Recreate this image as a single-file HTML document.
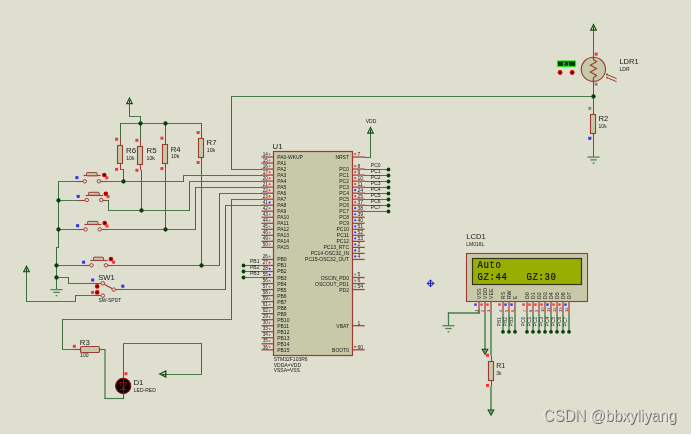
<!DOCTYPE html>
<html><head><meta charset="utf-8"><style>
html,body{margin:0;padding:0;background:#fff;overflow:hidden}
svg{display:block;will-change:transform;opacity:0.999}
</style></head><body>
<svg width="692" height="435" viewBox="0 0 692 435" font-family="Liberation Sans, sans-serif">
<rect x="0" y="0" width="691" height="434" fill="#DFDFD0"/>
<line x1="261.5" y1="169.5" x2="231.5" y2="169.5" stroke="#4A7A4A" stroke-width="1.0" stroke-linecap="square"/>
<line x1="231.5" y1="169.5" x2="231.5" y2="96.5" stroke="#3E6E3E" stroke-width="1.0" stroke-linecap="square"/>
<line x1="231.5" y1="96.5" x2="593.5" y2="96.5" stroke="#4A7A4A" stroke-width="1.0" stroke-linecap="square"/>
<polygon points="129.5,98.0 126.7,103.6 132.3,103.6" fill="none" stroke="#0E4A0E" stroke-width="1.1" stroke-linejoin="miter"/>
<line x1="129.5" y1="100.2" x2="129.5" y2="103.6" stroke="#0E4A0E" stroke-width="1.0" stroke-linecap="butt"/>
<line x1="129.5" y1="103.5" x2="129.5" y2="116.5" stroke="#3E6E3E" stroke-width="1.0" stroke-linecap="square"/>
<line x1="129.5" y1="116.5" x2="140.5" y2="116.5" stroke="#4A7A4A" stroke-width="1.0" stroke-linecap="square"/>
<line x1="140.5" y1="116.5" x2="140.5" y2="123.5" stroke="#3E6E3E" stroke-width="1.0" stroke-linecap="square"/>
<line x1="120.5" y1="123.5" x2="201.5" y2="123.5" stroke="#4A7A4A" stroke-width="1.0" stroke-linecap="square"/>
<line x1="120.5" y1="123.5" x2="120.5" y2="139.5" stroke="#3E6E3E" stroke-width="1.0" stroke-linecap="square"/>
<line x1="120.5" y1="139.5" x2="120.5" y2="145.2" stroke="#A04038" stroke-width="1.1" stroke-linecap="butt"/>
<line x1="120.5" y1="163.4" x2="120.5" y2="169.4" stroke="#A04038" stroke-width="1.1" stroke-linecap="butt"/>
<rect x="117.5" y="145.5" width="5" height="18.0" fill="#C8C9A8" stroke="#9A3A32" stroke-width="1.1"/>
<line x1="120.5" y1="169.5" x2="123.5" y2="169.5" stroke="#4A7A4A" stroke-width="1.0" stroke-linecap="square"/>
<line x1="123.5" y1="169.5" x2="123.5" y2="181.5" stroke="#3E6E3E" stroke-width="1.0" stroke-linecap="square"/>
<rect x="115.1" y="137.7" width="3" height="3" fill="#F03838"/>
<rect x="115.1" y="167.9" width="3" height="3" fill="#F03838"/>
<text x="126.0" y="152.9" font-size="7.8" fill="#1A1A1A" stroke="#1A1A1A" stroke-width="0.0" text-anchor="start" >R6</text>
<text x="126.2" y="159.8" font-size="5.2" fill="#1A1A1A" stroke="#1A1A1A" stroke-width="0.0" text-anchor="start" >10k</text>
<line x1="140.5" y1="123.5" x2="140.5" y2="140.5" stroke="#3E6E3E" stroke-width="1.0" stroke-linecap="square"/>
<line x1="140.5" y1="140.3" x2="140.5" y2="146.1" stroke="#A04038" stroke-width="1.1" stroke-linecap="butt"/>
<line x1="140.5" y1="164.6" x2="140.5" y2="170.3" stroke="#A04038" stroke-width="1.1" stroke-linecap="butt"/>
<rect x="137.5" y="146.5" width="5" height="18.0" fill="#C8C9A8" stroke="#9A3A32" stroke-width="1.1"/>
<line x1="141.5" y1="170.5" x2="141.5" y2="210.5" stroke="#3E6E3E" stroke-width="1.0" stroke-linecap="square"/>
<rect x="135.4" y="138.8" width="3" height="3" fill="#F03838"/>
<rect x="135.4" y="168.8" width="3" height="3" fill="#F03838"/>
<text x="146.6" y="152.9" font-size="7.8" fill="#1A1A1A" stroke="#1A1A1A" stroke-width="0.0" text-anchor="start" >R5</text>
<text x="146.6" y="159.8" font-size="5.2" fill="#1A1A1A" stroke="#1A1A1A" stroke-width="0.0" text-anchor="start" >10k</text>
<line x1="165.5" y1="123.5" x2="165.5" y2="138.5" stroke="#3E6E3E" stroke-width="1.0" stroke-linecap="square"/>
<line x1="165.5" y1="138.5" x2="165.5" y2="144.8" stroke="#A04038" stroke-width="1.1" stroke-linecap="butt"/>
<line x1="165.5" y1="163.0" x2="165.5" y2="168.6" stroke="#A04038" stroke-width="1.1" stroke-linecap="butt"/>
<rect x="162.5" y="144.5" width="5" height="19.0" fill="#C8C9A8" stroke="#9A3A32" stroke-width="1.1"/>
<line x1="165.5" y1="168.5" x2="165.5" y2="229.5" stroke="#3E6E3E" stroke-width="1.0" stroke-linecap="square"/>
<rect x="160.4" y="136.7" width="3" height="3" fill="#F03838"/>
<rect x="160.4" y="167.1" width="3" height="3" fill="#F03838"/>
<text x="170.7" y="151.8" font-size="7.8" fill="#1A1A1A" stroke="#1A1A1A" stroke-width="0.0" text-anchor="start" >R4</text>
<text x="170.9" y="158.4" font-size="5.2" fill="#1A1A1A" stroke="#1A1A1A" stroke-width="0.0" text-anchor="start" >10k</text>
<line x1="201.5" y1="123.5" x2="201.5" y2="132.5" stroke="#3E6E3E" stroke-width="1.0" stroke-linecap="square"/>
<line x1="201.5" y1="132.6" x2="201.5" y2="138.6" stroke="#A04038" stroke-width="1.1" stroke-linecap="butt"/>
<line x1="201.5" y1="157.3" x2="201.5" y2="162.6" stroke="#A04038" stroke-width="1.1" stroke-linecap="butt"/>
<rect x="198.5" y="138.5" width="5" height="19.0" fill="#C8C9A8" stroke="#9A3A32" stroke-width="1.1"/>
<line x1="201.5" y1="162.5" x2="201.5" y2="265.5" stroke="#3E6E3E" stroke-width="1.0" stroke-linecap="square"/>
<rect x="196.6" y="131.0" width="3" height="3" fill="#F03838"/>
<rect x="196.6" y="161.0" width="3" height="3" fill="#F03838"/>
<text x="206.6" y="145.2" font-size="7.8" fill="#1A1A1A" stroke="#1A1A1A" stroke-width="0.0" text-anchor="start" >R7</text>
<text x="206.8" y="152.0" font-size="5.2" fill="#1A1A1A" stroke="#1A1A1A" stroke-width="0.0" text-anchor="start" >10k</text>
<line x1="58.5" y1="181.5" x2="58.5" y2="247.5" stroke="#3E6E3E" stroke-width="1.0" stroke-linecap="square"/>
<line x1="58.5" y1="247.5" x2="56.5" y2="247.5" stroke="#4A7A4A" stroke-width="1.0" stroke-linecap="square"/>
<line x1="56.5" y1="247.5" x2="56.5" y2="289.5" stroke="#3E6E3E" stroke-width="1.0" stroke-linecap="square"/>
<line x1="50.5" y1="289.6" x2="62.5" y2="289.6" stroke="#4E804E" stroke-width="1.25" stroke-linecap="butt"/>
<line x1="53.3" y1="292.40000000000003" x2="59.7" y2="292.40000000000003" stroke="#4E804E" stroke-width="1.25" stroke-linecap="butt"/>
<line x1="55.6" y1="295.7" x2="57.4" y2="295.7" stroke="#4E804E" stroke-width="1.25" stroke-linecap="butt"/>
<line x1="58.5" y1="181.5" x2="76.5" y2="181.5" stroke="#4A7A4A" stroke-width="1.0" stroke-linecap="square"/>
<line x1="76.9" y1="181.5" x2="83.0" y2="181.5" stroke="#A04038" stroke-width="1.1" stroke-linecap="butt"/>
<line x1="100.7" y1="181.5" x2="107.6" y2="181.5" stroke="#A04038" stroke-width="1.1" stroke-linecap="butt"/>
<circle cx="84.8" cy="181.3" r="1.75" fill="none" stroke="#9A3A32" stroke-width="0.95"/>
<circle cx="98.9" cy="181.3" r="1.75" fill="none" stroke="#9A3A32" stroke-width="0.95"/>
<line x1="83.6" y1="175.5" x2="100.7" y2="175.5" stroke="#A04038" stroke-width="1.15" stroke-linecap="butt"/>
<rect x="86.6" y="172.6" width="10.5" height="3.200000000000017" rx="0.6" fill="#C8C9A8" stroke="#9A3A32" stroke-width="1.0"/>
<rect x="75.4" y="176.1" width="3" height="3" fill="#3030F0"/>
<rect x="105.3" y="176.3" width="3" height="3" fill="#F03838"/>
<circle cx="104.3" cy="175.0" r="2.3" fill="#D40000"/>
<circle cx="104.3" cy="175.0" r="1.0" fill="#500000"/>
<line x1="107.5" y1="181.5" x2="183.5" y2="181.5" stroke="#4A7A4A" stroke-width="1.0" stroke-linecap="square"/>
<line x1="183.5" y1="181.5" x2="183.5" y2="175.5" stroke="#3E6E3E" stroke-width="1.0" stroke-linecap="square"/>
<line x1="183.5" y1="175.5" x2="261.5" y2="175.5" stroke="#4A7A4A" stroke-width="1.0" stroke-linecap="square"/>
<line x1="58.5" y1="200.5" x2="78.5" y2="200.5" stroke="#4A7A4A" stroke-width="1.0" stroke-linecap="square"/>
<line x1="78.2" y1="200.5" x2="85.0" y2="200.5" stroke="#A04038" stroke-width="1.1" stroke-linecap="butt"/>
<line x1="103.0" y1="200.5" x2="108.9" y2="200.5" stroke="#A04038" stroke-width="1.1" stroke-linecap="butt"/>
<circle cx="86.8" cy="200.0" r="1.75" fill="none" stroke="#9A3A32" stroke-width="0.95"/>
<circle cx="101.2" cy="200.0" r="1.75" fill="none" stroke="#9A3A32" stroke-width="0.95"/>
<line x1="85.6" y1="195.5" x2="103.0" y2="195.5" stroke="#A04038" stroke-width="1.15" stroke-linecap="butt"/>
<rect x="88.6" y="192.3" width="10.600000000000009" height="2.8999999999999773" rx="0.6" fill="#C8C9A8" stroke="#9A3A32" stroke-width="1.0"/>
<rect x="76.7" y="194.9" width="3" height="3" fill="#3030F0"/>
<rect x="106.5" y="195.1" width="3" height="3" fill="#F03838"/>
<circle cx="105.8" cy="193.7" r="2.3" fill="#D40000"/>
<circle cx="105.8" cy="193.7" r="1.0" fill="#500000"/>
<line x1="108.5" y1="200.5" x2="108.5" y2="210.5" stroke="#3E6E3E" stroke-width="1.0" stroke-linecap="square"/>
<line x1="108.5" y1="210.5" x2="189.5" y2="210.5" stroke="#4A7A4A" stroke-width="1.0" stroke-linecap="square"/>
<line x1="189.5" y1="210.5" x2="189.5" y2="181.5" stroke="#3E6E3E" stroke-width="1.0" stroke-linecap="square"/>
<line x1="189.5" y1="181.5" x2="261.5" y2="181.5" stroke="#4A7A4A" stroke-width="1.0" stroke-linecap="square"/>
<line x1="58.5" y1="229.5" x2="77.5" y2="229.5" stroke="#4A7A4A" stroke-width="1.0" stroke-linecap="square"/>
<line x1="77.6" y1="229.5" x2="83.7" y2="229.5" stroke="#A04038" stroke-width="1.1" stroke-linecap="butt"/>
<line x1="101.5" y1="229.5" x2="107.0" y2="229.5" stroke="#A04038" stroke-width="1.1" stroke-linecap="butt"/>
<circle cx="85.5" cy="229.4" r="1.75" fill="none" stroke="#9A3A32" stroke-width="0.95"/>
<circle cx="99.7" cy="229.4" r="1.75" fill="none" stroke="#9A3A32" stroke-width="0.95"/>
<line x1="84.3" y1="224.5" x2="101.5" y2="224.5" stroke="#A04038" stroke-width="1.15" stroke-linecap="butt"/>
<rect x="87.6" y="221.4" width="10.400000000000006" height="3.0" rx="0.6" fill="#C8C9A8" stroke="#9A3A32" stroke-width="1.0"/>
<rect x="76.1" y="224.2" width="3" height="3" fill="#3030F0"/>
<rect x="105.5" y="224.5" width="3" height="3" fill="#F03838"/>
<circle cx="104.7" cy="223.1" r="2.3" fill="#D40000"/>
<circle cx="104.7" cy="223.1" r="1.0" fill="#500000"/>
<line x1="107.5" y1="229.5" x2="195.5" y2="229.5" stroke="#4A7A4A" stroke-width="1.0" stroke-linecap="square"/>
<line x1="195.5" y1="229.5" x2="195.5" y2="187.5" stroke="#3E6E3E" stroke-width="1.0" stroke-linecap="square"/>
<line x1="195.5" y1="187.5" x2="261.5" y2="187.5" stroke="#4A7A4A" stroke-width="1.0" stroke-linecap="square"/>
<line x1="56.5" y1="265.5" x2="83.5" y2="265.5" stroke="#4A7A4A" stroke-width="1.0" stroke-linecap="square"/>
<line x1="83.6" y1="265.5" x2="89.7" y2="265.5" stroke="#A04038" stroke-width="1.1" stroke-linecap="butt"/>
<line x1="107.7" y1="265.5" x2="113.6" y2="265.5" stroke="#A04038" stroke-width="1.1" stroke-linecap="butt"/>
<circle cx="91.5" cy="265.3" r="1.75" fill="none" stroke="#9A3A32" stroke-width="0.95"/>
<circle cx="105.9" cy="265.3" r="1.75" fill="none" stroke="#9A3A32" stroke-width="0.95"/>
<line x1="90.3" y1="260.5" x2="107.7" y2="260.5" stroke="#A04038" stroke-width="1.15" stroke-linecap="butt"/>
<rect x="93.4" y="257.2" width="10.099999999999994" height="3.1999999999999886" rx="0.6" fill="#C8C9A8" stroke="#9A3A32" stroke-width="1.0"/>
<rect x="82.1" y="260.7" width="3" height="3" fill="#3030F0"/>
<rect x="112.1" y="260.7" width="3" height="3" fill="#F03838"/>
<circle cx="110.9" cy="259.1" r="2.3" fill="#D40000"/>
<circle cx="110.9" cy="259.1" r="1.0" fill="#500000"/>
<line x1="113.5" y1="265.5" x2="219.5" y2="265.5" stroke="#4A7A4A" stroke-width="1.0" stroke-linecap="square"/>
<line x1="219.5" y1="265.5" x2="219.5" y2="193.5" stroke="#3E6E3E" stroke-width="1.0" stroke-linecap="square"/>
<line x1="219.5" y1="193.5" x2="261.5" y2="193.5" stroke="#4A7A4A" stroke-width="1.0" stroke-linecap="square"/>
<line x1="56.5" y1="277.5" x2="68.5" y2="277.5" stroke="#4A7A4A" stroke-width="1.0" stroke-linecap="square"/>
<line x1="68.5" y1="277.5" x2="68.5" y2="283.5" stroke="#3E6E3E" stroke-width="1.0" stroke-linecap="square"/>
<line x1="68.5" y1="283.5" x2="93.5" y2="283.5" stroke="#4A7A4A" stroke-width="1.0" stroke-linecap="square"/>
<line x1="93.0" y1="283.5" x2="101.0" y2="283.5" stroke="#A04038" stroke-width="1.1" stroke-linecap="butt"/>
<circle cx="102.8" cy="283.3" r="1.75" fill="none" stroke="#9A3A32" stroke-width="0.95"/>
<line x1="104.3" y1="284.2" x2="112.3" y2="288.8" stroke="#9A3A32" stroke-width="1.1" stroke-linecap="butt"/>
<circle cx="113.8" cy="289.6" r="1.75" fill="none" stroke="#9A3A32" stroke-width="0.95"/>
<line x1="115.5" y1="289.5" x2="123.0" y2="289.5" stroke="#A04038" stroke-width="1.1" stroke-linecap="butt"/>
<line x1="123.5" y1="289.5" x2="225.5" y2="289.5" stroke="#4A7A4A" stroke-width="1.0" stroke-linecap="square"/>
<line x1="225.5" y1="289.5" x2="225.5" y2="205.5" stroke="#3E6E3E" stroke-width="1.0" stroke-linecap="square"/>
<line x1="225.5" y1="205.5" x2="261.5" y2="205.5" stroke="#4A7A4A" stroke-width="1.0" stroke-linecap="square"/>
<circle cx="102.8" cy="295.6" r="1.75" fill="none" stroke="#9A3A32" stroke-width="0.95"/>
<line x1="93.0" y1="295.5" x2="101.0" y2="295.5" stroke="#A04038" stroke-width="1.1" stroke-linecap="butt"/>
<line x1="93.5" y1="295.5" x2="75.5" y2="295.5" stroke="#4A7A4A" stroke-width="1.0" stroke-linecap="square"/>
<line x1="75.5" y1="295.5" x2="75.5" y2="301.5" stroke="#3E6E3E" stroke-width="1.0" stroke-linecap="square"/>
<line x1="75.5" y1="301.5" x2="26.5" y2="301.5" stroke="#4A7A4A" stroke-width="1.0" stroke-linecap="square"/>
<line x1="26.5" y1="301.5" x2="26.5" y2="271.5" stroke="#3E6E3E" stroke-width="1.0" stroke-linecap="square"/>
<polygon points="26.5,266.20000000000005 23.7,271.80000000000007 29.3,271.80000000000007" fill="none" stroke="#0E4A0E" stroke-width="1.1" stroke-linejoin="miter"/>
<line x1="26.5" y1="268.40000000000003" x2="26.5" y2="271.80000000000007" stroke="#0E4A0E" stroke-width="1.0" stroke-linecap="butt"/>
<rect x="91.2" y="278.5" width="3" height="3" fill="#3030F0"/>
<rect x="121.3" y="284.7" width="3" height="3" fill="#3030F0"/>
<rect x="91.1" y="290.9" width="3" height="3" fill="#F03838"/>
<circle cx="97.2" cy="286.4" r="2.3" fill="#D40000"/>
<circle cx="97.2" cy="286.4" r="1.0" fill="#500000"/>
<circle cx="97.2" cy="292.4" r="2.3" fill="#D40000"/>
<circle cx="97.2" cy="292.4" r="1.0" fill="#500000"/>
<text x="98.3" y="279.6" font-size="7.6" fill="#1A1A1A" stroke="#1A1A1A" stroke-width="0.0" text-anchor="start" >SW1</text>
<text x="98.4" y="301.6" font-size="5" fill="#1A1A1A" stroke="#1A1A1A" stroke-width="0.0" text-anchor="start" >SW-SPDT</text>
<line x1="261.5" y1="199.5" x2="231.5" y2="199.5" stroke="#4A7A4A" stroke-width="1.0" stroke-linecap="square"/>
<line x1="231.5" y1="199.5" x2="231.5" y2="319.5" stroke="#3E6E3E" stroke-width="1.0" stroke-linecap="square"/>
<line x1="231.5" y1="319.5" x2="62.5" y2="319.5" stroke="#4A7A4A" stroke-width="1.0" stroke-linecap="square"/>
<line x1="62.5" y1="319.5" x2="62.5" y2="349.5" stroke="#3E6E3E" stroke-width="1.0" stroke-linecap="square"/>
<line x1="62.5" y1="349.5" x2="74.5" y2="349.5" stroke="#4A7A4A" stroke-width="1.0" stroke-linecap="square"/>
<line x1="74.3" y1="349.5" x2="80.4" y2="349.5" stroke="#A04038" stroke-width="1.1" stroke-linecap="butt"/>
<line x1="99.5" y1="349.5" x2="104.8" y2="349.5" stroke="#A04038" stroke-width="1.1" stroke-linecap="butt"/>
<rect x="80.5" y="346.5" width="19.0" height="6" rx="1.6" fill="#C8C9A8" stroke="#9A3A32" stroke-width="1.2"/>
<rect x="72.8" y="344.8" width="3" height="3" fill="#F03838"/>
<text x="79.8" y="344.8" font-size="7.8" fill="#1A1A1A" stroke="#1A1A1A" stroke-width="0.0" text-anchor="start" >R3</text>
<text x="80.1" y="356.9" font-size="5.1" fill="#1A1A1A" stroke="#1A1A1A" stroke-width="0.0" text-anchor="start" >100</text>
<line x1="105.0" y1="349.5" x2="105.0" y2="398.5" stroke="#3E6E3E" stroke-width="1.15" stroke-linecap="square"/>
<line x1="105.0" y1="398.5" x2="123.5" y2="398.5" stroke="#4A7A4A" stroke-width="1.15" stroke-linecap="square"/>
<line x1="123.5" y1="398.5" x2="123.5" y2="393.5" stroke="#3E6E3E" stroke-width="1.15" stroke-linecap="square"/>
<line x1="123.5" y1="343.5" x2="123.5" y2="372.5" stroke="#3E6E3E" stroke-width="1.0" stroke-linecap="square"/>
<line x1="123.5" y1="372.0" x2="123.5" y2="378.5" stroke="#A04038" stroke-width="1.1" stroke-linecap="butt"/>
<line x1="123.5" y1="343.5" x2="201.5" y2="343.5" stroke="#4A7A4A" stroke-width="1.0" stroke-linecap="square"/>
<line x1="201.5" y1="343.5" x2="201.5" y2="374.5" stroke="#3E6E3E" stroke-width="1.0" stroke-linecap="square"/>
<line x1="201.5" y1="374.5" x2="165.5" y2="374.5" stroke="#4A7A4A" stroke-width="1.0" stroke-linecap="square"/>
<polygon points="159.8,374.0 165.8,371.0 165.8,377.0" fill="none" stroke="#0E4A0E" stroke-width="1.3" stroke-linejoin="miter"/>
<line x1="162.3" y1="374.5" x2="165.8" y2="374.5" stroke="#0E4A0E" stroke-width="1.1" stroke-linecap="butt"/>
<rect x="124.4" y="372.2" width="3" height="3" fill="#F03838"/>
<circle cx="123.2" cy="386.0" r="7.6" fill="#0A0000" stroke="#7A1010" stroke-width="1.1"/>
<polygon points="119.6,382.6 126.8,382.6 123.2,389.4" fill="none" stroke="#9A1414" stroke-width="0.85"/>
<line x1="119.6" y1="389.5" x2="126.8" y2="389.5" stroke="#9A1414" stroke-width="0.85" stroke-linecap="butt"/>
<line x1="123.5" y1="378.5" x2="123.5" y2="393.5" stroke="#9A1414" stroke-width="0.85" stroke-linecap="butt"/>
<text x="133.4" y="384.9" font-size="7.8" fill="#1A1A1A" stroke="#1A1A1A" stroke-width="0.0" text-anchor="start" >D1</text>
<text x="133.8" y="391.7" font-size="5.0" fill="#1A1A1A" stroke="#1A1A1A" stroke-width="0.0" text-anchor="start" >LED-RED</text>
<rect x="273.5" y="151.5" width="79.0" height="204.0" fill="#C8C9A8" stroke="#9A3A32" stroke-width="1.2"/>
<text x="272.5" y="148.6" font-size="7.8" fill="#1A1A1A" stroke="#1A1A1A" stroke-width="0.0" text-anchor="start" >U1</text>
<line x1="261.5" y1="157.0" x2="273.5" y2="157.0" stroke="#A83C36" stroke-width="1.25" stroke-linecap="butt"/>
<text x="262.8" y="155.7" font-size="4.6" fill="#222" stroke="#222" stroke-width="0.0" text-anchor="start" >14</text>
<circle cx="269.6" cy="154.2" r="1.05" fill="#8A8A8A"/>
<text x="277.2" y="159.0" font-size="5.0" fill="#1A1A1A" stroke="#1A1A1A" stroke-width="0.0" text-anchor="start" >PA0-WKUP</text>
<line x1="261.5" y1="163.03" x2="273.5" y2="163.03" stroke="#A83C36" stroke-width="1.25" stroke-linecap="butt"/>
<text x="262.8" y="161.72" font-size="4.6" fill="#222" stroke="#222" stroke-width="0.0" text-anchor="start" >15</text>
<circle cx="269.6" cy="160.22" r="1.05" fill="#8A8A8A"/>
<text x="277.2" y="165.02" font-size="5.0" fill="#1A1A1A" stroke="#1A1A1A" stroke-width="0.0" text-anchor="start" >PA1</text>
<line x1="261.5" y1="169.05" x2="273.5" y2="169.05" stroke="#A83C36" stroke-width="1.25" stroke-linecap="butt"/>
<text x="262.8" y="167.75" font-size="4.6" fill="#222" stroke="#222" stroke-width="0.0" text-anchor="start" >16</text>
<circle cx="269.6" cy="166.25" r="1.05" fill="#8A8A8A"/>
<text x="277.2" y="171.05" font-size="5.0" fill="#1A1A1A" stroke="#1A1A1A" stroke-width="0.0" text-anchor="start" >PA2</text>
<line x1="261.5" y1="175.07" x2="273.5" y2="175.07" stroke="#A83C36" stroke-width="1.25" stroke-linecap="butt"/>
<text x="262.8" y="173.77" font-size="4.6" fill="#222" stroke="#222" stroke-width="0.0" text-anchor="start" >17</text>
<circle cx="269.6" cy="172.27" r="1.05" fill="#F03838"/>
<text x="277.2" y="177.07000000000002" font-size="5.0" fill="#1A1A1A" stroke="#1A1A1A" stroke-width="0.0" text-anchor="start" >PA3</text>
<line x1="261.5" y1="181.1" x2="273.5" y2="181.1" stroke="#A83C36" stroke-width="1.25" stroke-linecap="butt"/>
<text x="262.8" y="179.8" font-size="4.6" fill="#222" stroke="#222" stroke-width="0.0" text-anchor="start" >20</text>
<circle cx="269.6" cy="178.3" r="1.05" fill="#F03838"/>
<text x="277.2" y="183.10000000000002" font-size="5.0" fill="#1A1A1A" stroke="#1A1A1A" stroke-width="0.0" text-anchor="start" >PA4</text>
<line x1="261.5" y1="187.12" x2="273.5" y2="187.12" stroke="#A83C36" stroke-width="1.25" stroke-linecap="butt"/>
<text x="262.8" y="185.82" font-size="4.6" fill="#222" stroke="#222" stroke-width="0.0" text-anchor="start" >21</text>
<circle cx="269.6" cy="184.32" r="1.05" fill="#F03838"/>
<text x="277.2" y="189.12" font-size="5.0" fill="#1A1A1A" stroke="#1A1A1A" stroke-width="0.0" text-anchor="start" >PA5</text>
<line x1="261.5" y1="193.15" x2="273.5" y2="193.15" stroke="#A83C36" stroke-width="1.25" stroke-linecap="butt"/>
<text x="262.8" y="191.85" font-size="4.6" fill="#222" stroke="#222" stroke-width="0.0" text-anchor="start" >22</text>
<circle cx="269.6" cy="190.35" r="1.05" fill="#F03838"/>
<text x="277.2" y="195.15" font-size="5.0" fill="#1A1A1A" stroke="#1A1A1A" stroke-width="0.0" text-anchor="start" >PA6</text>
<line x1="261.5" y1="199.18" x2="273.5" y2="199.18" stroke="#A83C36" stroke-width="1.25" stroke-linecap="butt"/>
<text x="262.8" y="197.88" font-size="4.6" fill="#222" stroke="#222" stroke-width="0.0" text-anchor="start" >23</text>
<circle cx="269.6" cy="196.38" r="1.05" fill="#F03838"/>
<text x="277.2" y="201.18" font-size="5.0" fill="#1A1A1A" stroke="#1A1A1A" stroke-width="0.0" text-anchor="start" >PA7</text>
<line x1="261.5" y1="205.2" x2="273.5" y2="205.2" stroke="#A83C36" stroke-width="1.25" stroke-linecap="butt"/>
<text x="262.8" y="203.9" font-size="4.6" fill="#222" stroke="#222" stroke-width="0.0" text-anchor="start" >41</text>
<circle cx="269.6" cy="202.4" r="1.05" fill="#3030F0"/>
<text x="277.2" y="207.20000000000002" font-size="5.0" fill="#1A1A1A" stroke="#1A1A1A" stroke-width="0.0" text-anchor="start" >PA8</text>
<line x1="261.5" y1="211.22" x2="273.5" y2="211.22" stroke="#A83C36" stroke-width="1.25" stroke-linecap="butt"/>
<text x="262.8" y="209.92" font-size="4.6" fill="#222" stroke="#222" stroke-width="0.0" text-anchor="start" >42</text>
<circle cx="269.6" cy="208.42" r="1.05" fill="#8A8A8A"/>
<text x="277.2" y="213.22" font-size="5.0" fill="#1A1A1A" stroke="#1A1A1A" stroke-width="0.0" text-anchor="start" >PA9</text>
<line x1="261.5" y1="217.25" x2="273.5" y2="217.25" stroke="#A83C36" stroke-width="1.25" stroke-linecap="butt"/>
<text x="262.8" y="215.95" font-size="4.6" fill="#222" stroke="#222" stroke-width="0.0" text-anchor="start" >43</text>
<circle cx="269.6" cy="214.45" r="1.05" fill="#8A8A8A"/>
<text x="277.2" y="219.25" font-size="5.0" fill="#1A1A1A" stroke="#1A1A1A" stroke-width="0.0" text-anchor="start" >PA10</text>
<line x1="261.5" y1="223.28" x2="273.5" y2="223.28" stroke="#A83C36" stroke-width="1.25" stroke-linecap="butt"/>
<text x="262.8" y="221.97" font-size="4.6" fill="#222" stroke="#222" stroke-width="0.0" text-anchor="start" >44</text>
<circle cx="269.6" cy="220.47" r="1.05" fill="#8A8A8A"/>
<text x="277.2" y="225.27" font-size="5.0" fill="#1A1A1A" stroke="#1A1A1A" stroke-width="0.0" text-anchor="start" >PA11</text>
<line x1="261.5" y1="229.3" x2="273.5" y2="229.3" stroke="#A83C36" stroke-width="1.25" stroke-linecap="butt"/>
<text x="262.8" y="228.0" font-size="4.6" fill="#222" stroke="#222" stroke-width="0.0" text-anchor="start" >45</text>
<circle cx="269.6" cy="226.5" r="1.05" fill="#8A8A8A"/>
<text x="277.2" y="231.3" font-size="5.0" fill="#1A1A1A" stroke="#1A1A1A" stroke-width="0.0" text-anchor="start" >PA12</text>
<line x1="261.5" y1="235.32" x2="273.5" y2="235.32" stroke="#A83C36" stroke-width="1.25" stroke-linecap="butt"/>
<text x="262.8" y="234.02" font-size="4.6" fill="#222" stroke="#222" stroke-width="0.0" text-anchor="start" >46</text>
<circle cx="269.6" cy="232.52" r="1.05" fill="#8A8A8A"/>
<text x="277.2" y="237.32000000000002" font-size="5.0" fill="#1A1A1A" stroke="#1A1A1A" stroke-width="0.0" text-anchor="start" >PA13</text>
<line x1="261.5" y1="241.35" x2="273.5" y2="241.35" stroke="#A83C36" stroke-width="1.25" stroke-linecap="butt"/>
<text x="262.8" y="240.05" font-size="4.6" fill="#222" stroke="#222" stroke-width="0.0" text-anchor="start" >49</text>
<circle cx="269.6" cy="238.55" r="1.05" fill="#8A8A8A"/>
<text x="277.2" y="243.35000000000002" font-size="5.0" fill="#1A1A1A" stroke="#1A1A1A" stroke-width="0.0" text-anchor="start" >PA14</text>
<line x1="261.5" y1="247.38" x2="273.5" y2="247.38" stroke="#A83C36" stroke-width="1.25" stroke-linecap="butt"/>
<text x="262.8" y="246.07" font-size="4.6" fill="#222" stroke="#222" stroke-width="0.0" text-anchor="start" >50</text>
<circle cx="269.6" cy="244.57" r="1.05" fill="#8A8A8A"/>
<text x="277.2" y="249.37" font-size="5.0" fill="#1A1A1A" stroke="#1A1A1A" stroke-width="0.0" text-anchor="start" >PA15</text>
<line x1="261.5" y1="259.43" x2="273.5" y2="259.43" stroke="#A83C36" stroke-width="1.25" stroke-linecap="butt"/>
<text x="262.8" y="258.12" font-size="4.6" fill="#222" stroke="#222" stroke-width="0.0" text-anchor="start" >26</text>
<circle cx="269.6" cy="256.62" r="1.05" fill="#8A8A8A"/>
<text x="277.2" y="261.42" font-size="5.0" fill="#1A1A1A" stroke="#1A1A1A" stroke-width="0.0" text-anchor="start" >PB0</text>
<line x1="261.5" y1="265.45" x2="273.5" y2="265.45" stroke="#A83C36" stroke-width="1.25" stroke-linecap="butt"/>
<text x="262.8" y="264.15" font-size="4.6" fill="#222" stroke="#222" stroke-width="0.0" text-anchor="start" >27</text>
<circle cx="269.6" cy="262.65" r="1.05" fill="#F03838"/>
<text x="277.2" y="267.45" font-size="5.0" fill="#1A1A1A" stroke="#1A1A1A" stroke-width="0.0" text-anchor="start" >PB1</text>
<line x1="261.5" y1="271.48" x2="273.5" y2="271.48" stroke="#A83C36" stroke-width="1.25" stroke-linecap="butt"/>
<text x="262.8" y="270.18" font-size="4.6" fill="#222" stroke="#222" stroke-width="0.0" text-anchor="start" >28</text>
<circle cx="269.6" cy="268.68" r="1.05" fill="#3030F0"/>
<text x="277.2" y="273.48" font-size="5.0" fill="#1A1A1A" stroke="#1A1A1A" stroke-width="0.0" text-anchor="start" >PB2</text>
<line x1="261.5" y1="277.5" x2="273.5" y2="277.5" stroke="#A83C36" stroke-width="1.25" stroke-linecap="butt"/>
<text x="262.8" y="276.2" font-size="4.6" fill="#222" stroke="#222" stroke-width="0.0" text-anchor="start" >55</text>
<circle cx="269.6" cy="274.7" r="1.05" fill="#3030F0"/>
<text x="277.2" y="279.5" font-size="5.0" fill="#1A1A1A" stroke="#1A1A1A" stroke-width="0.0" text-anchor="start" >PB3</text>
<line x1="261.5" y1="283.52" x2="273.5" y2="283.52" stroke="#A83C36" stroke-width="1.25" stroke-linecap="butt"/>
<text x="262.8" y="282.23" font-size="4.6" fill="#222" stroke="#222" stroke-width="0.0" text-anchor="start" >56</text>
<circle cx="269.6" cy="280.73" r="1.05" fill="#8A8A8A"/>
<text x="277.2" y="285.53000000000003" font-size="5.0" fill="#1A1A1A" stroke="#1A1A1A" stroke-width="0.0" text-anchor="start" >PB4</text>
<line x1="261.5" y1="289.55" x2="273.5" y2="289.55" stroke="#A83C36" stroke-width="1.25" stroke-linecap="butt"/>
<text x="262.8" y="288.25" font-size="4.6" fill="#222" stroke="#222" stroke-width="0.0" text-anchor="start" >57</text>
<circle cx="269.6" cy="286.75" r="1.05" fill="#8A8A8A"/>
<text x="277.2" y="291.55" font-size="5.0" fill="#1A1A1A" stroke="#1A1A1A" stroke-width="0.0" text-anchor="start" >PB5</text>
<line x1="261.5" y1="295.58" x2="273.5" y2="295.58" stroke="#A83C36" stroke-width="1.25" stroke-linecap="butt"/>
<text x="262.8" y="294.27" font-size="4.6" fill="#222" stroke="#222" stroke-width="0.0" text-anchor="start" >58</text>
<circle cx="269.6" cy="292.77" r="1.05" fill="#8A8A8A"/>
<text x="277.2" y="297.57" font-size="5.0" fill="#1A1A1A" stroke="#1A1A1A" stroke-width="0.0" text-anchor="start" >PB6</text>
<line x1="261.5" y1="301.6" x2="273.5" y2="301.6" stroke="#A83C36" stroke-width="1.25" stroke-linecap="butt"/>
<text x="262.8" y="300.3" font-size="4.6" fill="#222" stroke="#222" stroke-width="0.0" text-anchor="start" >59</text>
<circle cx="269.6" cy="298.8" r="1.05" fill="#8A8A8A"/>
<text x="277.2" y="303.6" font-size="5.0" fill="#1A1A1A" stroke="#1A1A1A" stroke-width="0.0" text-anchor="start" >PB7</text>
<line x1="261.5" y1="307.62" x2="273.5" y2="307.62" stroke="#A83C36" stroke-width="1.25" stroke-linecap="butt"/>
<text x="262.8" y="306.32" font-size="4.6" fill="#222" stroke="#222" stroke-width="0.0" text-anchor="start" >61</text>
<circle cx="269.6" cy="304.82" r="1.05" fill="#8A8A8A"/>
<text x="277.2" y="309.62" font-size="5.0" fill="#1A1A1A" stroke="#1A1A1A" stroke-width="0.0" text-anchor="start" >PB8</text>
<line x1="261.5" y1="313.65" x2="273.5" y2="313.65" stroke="#A83C36" stroke-width="1.25" stroke-linecap="butt"/>
<text x="262.8" y="312.35" font-size="4.6" fill="#222" stroke="#222" stroke-width="0.0" text-anchor="start" >62</text>
<circle cx="269.6" cy="310.85" r="1.05" fill="#8A8A8A"/>
<text x="277.2" y="315.65000000000003" font-size="5.0" fill="#1A1A1A" stroke="#1A1A1A" stroke-width="0.0" text-anchor="start" >PB9</text>
<line x1="261.5" y1="319.68" x2="273.5" y2="319.68" stroke="#A83C36" stroke-width="1.25" stroke-linecap="butt"/>
<text x="262.8" y="318.38" font-size="4.6" fill="#222" stroke="#222" stroke-width="0.0" text-anchor="start" >29</text>
<circle cx="269.6" cy="316.88" r="1.05" fill="#8A8A8A"/>
<text x="277.2" y="321.68" font-size="5.0" fill="#1A1A1A" stroke="#1A1A1A" stroke-width="0.0" text-anchor="start" >PB10</text>
<line x1="261.5" y1="325.7" x2="273.5" y2="325.7" stroke="#A83C36" stroke-width="1.25" stroke-linecap="butt"/>
<text x="262.8" y="324.4" font-size="4.6" fill="#222" stroke="#222" stroke-width="0.0" text-anchor="start" >30</text>
<circle cx="269.6" cy="322.9" r="1.05" fill="#8A8A8A"/>
<text x="277.2" y="327.7" font-size="5.0" fill="#1A1A1A" stroke="#1A1A1A" stroke-width="0.0" text-anchor="start" >PB11</text>
<line x1="261.5" y1="331.73" x2="273.5" y2="331.73" stroke="#A83C36" stroke-width="1.25" stroke-linecap="butt"/>
<text x="262.8" y="330.43" font-size="4.6" fill="#222" stroke="#222" stroke-width="0.0" text-anchor="start" >33</text>
<circle cx="269.6" cy="328.93" r="1.05" fill="#8A8A8A"/>
<text x="277.2" y="333.73" font-size="5.0" fill="#1A1A1A" stroke="#1A1A1A" stroke-width="0.0" text-anchor="start" >PB12</text>
<line x1="261.5" y1="337.75" x2="273.5" y2="337.75" stroke="#A83C36" stroke-width="1.25" stroke-linecap="butt"/>
<text x="262.8" y="336.45" font-size="4.6" fill="#222" stroke="#222" stroke-width="0.0" text-anchor="start" >34</text>
<circle cx="269.6" cy="334.95" r="1.05" fill="#8A8A8A"/>
<text x="277.2" y="339.75" font-size="5.0" fill="#1A1A1A" stroke="#1A1A1A" stroke-width="0.0" text-anchor="start" >PB13</text>
<line x1="261.5" y1="343.77" x2="273.5" y2="343.77" stroke="#A83C36" stroke-width="1.25" stroke-linecap="butt"/>
<text x="262.8" y="342.48" font-size="4.6" fill="#222" stroke="#222" stroke-width="0.0" text-anchor="start" >35</text>
<circle cx="269.6" cy="340.98" r="1.05" fill="#8A8A8A"/>
<text x="277.2" y="345.78000000000003" font-size="5.0" fill="#1A1A1A" stroke="#1A1A1A" stroke-width="0.0" text-anchor="start" >PB14</text>
<line x1="261.5" y1="349.8" x2="273.5" y2="349.8" stroke="#A83C36" stroke-width="1.25" stroke-linecap="butt"/>
<text x="262.8" y="348.5" font-size="4.6" fill="#222" stroke="#222" stroke-width="0.0" text-anchor="start" >36</text>
<circle cx="269.6" cy="347.0" r="1.05" fill="#8A8A8A"/>
<text x="277.2" y="351.8" font-size="5.0" fill="#1A1A1A" stroke="#1A1A1A" stroke-width="0.0" text-anchor="start" >PB15</text>
<line x1="352.5" y1="157.0" x2="364.7" y2="157.0" stroke="#A83C36" stroke-width="1.25" stroke-linecap="butt"/>
<text x="357.4" y="155.89999999999998" font-size="5.0" fill="#222" stroke="#222" stroke-width="0.0" text-anchor="start" >7</text>
<circle cx="355.2" cy="154.0" r="1.1" fill="#F03838"/>
<text x="349.0" y="159.0" font-size="5.0" fill="#1A1A1A" stroke="#1A1A1A" stroke-width="0.0" text-anchor="end" >NRST</text>
<line x1="352.5" y1="169.05" x2="364.7" y2="169.05" stroke="#A83C36" stroke-width="1.25" stroke-linecap="butt"/>
<text x="357.4" y="167.95" font-size="5.0" fill="#222" stroke="#222" stroke-width="0.0" text-anchor="start" >8</text>
<circle cx="355.2" cy="166.05" r="1.1" fill="#F03838"/>
<text x="349.0" y="171.05" font-size="5.0" fill="#1A1A1A" stroke="#1A1A1A" stroke-width="0.0" text-anchor="end" >PC0</text>
<line x1="352.5" y1="175.07" x2="364.7" y2="175.07" stroke="#A83C36" stroke-width="1.25" stroke-linecap="butt"/>
<text x="357.4" y="173.97" font-size="5.0" fill="#222" stroke="#222" stroke-width="0.0" text-anchor="start" >9</text>
<circle cx="355.2" cy="172.07000000000002" r="1.1" fill="#F03838"/>
<text x="349.0" y="177.07000000000002" font-size="5.0" fill="#1A1A1A" stroke="#1A1A1A" stroke-width="0.0" text-anchor="end" >PC1</text>
<line x1="352.5" y1="181.1" x2="364.7" y2="181.1" stroke="#A83C36" stroke-width="1.25" stroke-linecap="butt"/>
<text x="357.4" y="180.0" font-size="5.0" fill="#222" stroke="#222" stroke-width="0.0" text-anchor="start" >10</text>
<circle cx="355.2" cy="178.10000000000002" r="1.1" fill="#F03838"/>
<text x="349.0" y="183.10000000000002" font-size="5.0" fill="#1A1A1A" stroke="#1A1A1A" stroke-width="0.0" text-anchor="end" >PC2</text>
<line x1="352.5" y1="187.12" x2="364.7" y2="187.12" stroke="#A83C36" stroke-width="1.25" stroke-linecap="butt"/>
<text x="357.4" y="186.01999999999998" font-size="5.0" fill="#222" stroke="#222" stroke-width="0.0" text-anchor="start" >11</text>
<circle cx="355.2" cy="184.12" r="1.1" fill="#F03838"/>
<text x="349.0" y="189.12" font-size="5.0" fill="#1A1A1A" stroke="#1A1A1A" stroke-width="0.0" text-anchor="end" >PC3</text>
<line x1="352.5" y1="193.15" x2="364.7" y2="193.15" stroke="#A83C36" stroke-width="1.25" stroke-linecap="butt"/>
<text x="357.4" y="192.04999999999998" font-size="5.0" fill="#222" stroke="#222" stroke-width="0.0" text-anchor="start" >24</text>
<circle cx="355.2" cy="190.15" r="1.1" fill="#3030F0"/>
<text x="349.0" y="195.15" font-size="5.0" fill="#1A1A1A" stroke="#1A1A1A" stroke-width="0.0" text-anchor="end" >PC4</text>
<line x1="352.5" y1="199.18" x2="364.7" y2="199.18" stroke="#A83C36" stroke-width="1.25" stroke-linecap="butt"/>
<text x="357.4" y="198.07999999999998" font-size="5.0" fill="#222" stroke="#222" stroke-width="0.0" text-anchor="start" >25</text>
<circle cx="355.2" cy="196.18" r="1.1" fill="#F03838"/>
<text x="349.0" y="201.18" font-size="5.0" fill="#1A1A1A" stroke="#1A1A1A" stroke-width="0.0" text-anchor="end" >PC5</text>
<line x1="352.5" y1="205.2" x2="364.7" y2="205.2" stroke="#A83C36" stroke-width="1.25" stroke-linecap="butt"/>
<text x="357.4" y="204.1" font-size="5.0" fill="#222" stroke="#222" stroke-width="0.0" text-anchor="start" >37</text>
<circle cx="355.2" cy="202.20000000000002" r="1.1" fill="#F03838"/>
<text x="349.0" y="207.20000000000002" font-size="5.0" fill="#1A1A1A" stroke="#1A1A1A" stroke-width="0.0" text-anchor="end" >PC6</text>
<line x1="352.5" y1="211.22" x2="364.7" y2="211.22" stroke="#A83C36" stroke-width="1.25" stroke-linecap="butt"/>
<text x="357.4" y="210.11999999999998" font-size="5.0" fill="#222" stroke="#222" stroke-width="0.0" text-anchor="start" >38</text>
<circle cx="355.2" cy="208.22" r="1.1" fill="#3030F0"/>
<text x="349.0" y="213.22" font-size="5.0" fill="#1A1A1A" stroke="#1A1A1A" stroke-width="0.0" text-anchor="end" >PC7</text>
<line x1="352.5" y1="217.25" x2="364.7" y2="217.25" stroke="#A83C36" stroke-width="1.25" stroke-linecap="butt"/>
<text x="357.4" y="216.14999999999998" font-size="5.0" fill="#222" stroke="#222" stroke-width="0.0" text-anchor="start" >39</text>
<circle cx="355.2" cy="214.25" r="1.1" fill="#3030F0"/>
<text x="349.0" y="219.25" font-size="5.0" fill="#1A1A1A" stroke="#1A1A1A" stroke-width="0.0" text-anchor="end" >PC8</text>
<line x1="352.5" y1="223.28" x2="364.7" y2="223.28" stroke="#A83C36" stroke-width="1.25" stroke-linecap="butt"/>
<text x="357.4" y="222.17" font-size="5.0" fill="#222" stroke="#222" stroke-width="0.0" text-anchor="start" >40</text>
<circle cx="355.2" cy="220.27" r="1.1" fill="#3030F0"/>
<text x="349.0" y="225.27" font-size="5.0" fill="#1A1A1A" stroke="#1A1A1A" stroke-width="0.0" text-anchor="end" >PC9</text>
<line x1="352.5" y1="229.3" x2="364.7" y2="229.3" stroke="#A83C36" stroke-width="1.25" stroke-linecap="butt"/>
<text x="357.4" y="228.2" font-size="5.0" fill="#222" stroke="#222" stroke-width="0.0" text-anchor="start" >51</text>
<circle cx="355.2" cy="226.3" r="1.1" fill="#3030F0"/>
<text x="349.0" y="231.3" font-size="5.0" fill="#1A1A1A" stroke="#1A1A1A" stroke-width="0.0" text-anchor="end" >PC10</text>
<line x1="352.5" y1="235.32" x2="364.7" y2="235.32" stroke="#A83C36" stroke-width="1.25" stroke-linecap="butt"/>
<text x="357.4" y="234.22" font-size="5.0" fill="#222" stroke="#222" stroke-width="0.0" text-anchor="start" >52</text>
<circle cx="355.2" cy="232.32000000000002" r="1.1" fill="#3030F0"/>
<text x="349.0" y="237.32000000000002" font-size="5.0" fill="#1A1A1A" stroke="#1A1A1A" stroke-width="0.0" text-anchor="end" >PC11</text>
<line x1="352.5" y1="241.35" x2="364.7" y2="241.35" stroke="#A83C36" stroke-width="1.25" stroke-linecap="butt"/>
<text x="357.4" y="240.25" font-size="5.0" fill="#222" stroke="#222" stroke-width="0.0" text-anchor="start" >53</text>
<circle cx="355.2" cy="238.35000000000002" r="1.1" fill="#3030F0"/>
<text x="349.0" y="243.35000000000002" font-size="5.0" fill="#1A1A1A" stroke="#1A1A1A" stroke-width="0.0" text-anchor="end" >PC12</text>
<line x1="352.5" y1="247.38" x2="364.7" y2="247.38" stroke="#A83C36" stroke-width="1.25" stroke-linecap="butt"/>
<text x="357.4" y="246.26999999999998" font-size="5.0" fill="#222" stroke="#222" stroke-width="0.0" text-anchor="start" >2</text>
<circle cx="355.2" cy="244.37" r="1.1" fill="#3030F0"/>
<text x="349.0" y="249.37" font-size="5.0" fill="#1A1A1A" stroke="#1A1A1A" stroke-width="0.0" text-anchor="end" >PC13_RTC</text>
<line x1="352.5" y1="253.4" x2="364.7" y2="253.4" stroke="#A83C36" stroke-width="1.25" stroke-linecap="butt"/>
<text x="357.4" y="252.29999999999998" font-size="5.0" fill="#222" stroke="#222" stroke-width="0.0" text-anchor="start" >3</text>
<circle cx="355.2" cy="250.4" r="1.1" fill="#3030F0"/>
<text x="349.0" y="255.4" font-size="5.0" fill="#1A1A1A" stroke="#1A1A1A" stroke-width="0.0" text-anchor="end" >PC14-OSC32_IN</text>
<line x1="352.5" y1="259.43" x2="364.7" y2="259.43" stroke="#A83C36" stroke-width="1.25" stroke-linecap="butt"/>
<text x="357.4" y="258.32" font-size="5.0" fill="#222" stroke="#222" stroke-width="0.0" text-anchor="start" >4</text>
<circle cx="355.2" cy="256.42" r="1.1" fill="#3030F0"/>
<text x="349.0" y="261.42" font-size="5.0" fill="#1A1A1A" stroke="#1A1A1A" stroke-width="0.0" text-anchor="end" >PC15-OSC32_OUT</text>
<line x1="352.5" y1="277.5" x2="364.7" y2="277.5" stroke="#A83C36" stroke-width="1.25" stroke-linecap="butt"/>
<text x="357.4" y="276.4" font-size="5.0" fill="#222" stroke="#222" stroke-width="0.0" text-anchor="start" >5</text>
<circle cx="355.2" cy="274.5" r="1.1" fill="#8A8A8A"/>
<text x="349.0" y="279.5" font-size="5.0" fill="#1A1A1A" stroke="#1A1A1A" stroke-width="0.0" text-anchor="end" >OSCIN_PD0</text>
<line x1="352.5" y1="283.52" x2="364.7" y2="283.52" stroke="#A83C36" stroke-width="1.25" stroke-linecap="butt"/>
<text x="357.4" y="282.43" font-size="5.0" fill="#222" stroke="#222" stroke-width="0.0" text-anchor="start" >6</text>
<circle cx="355.2" cy="280.53000000000003" r="1.1" fill="#8A8A8A"/>
<text x="349.0" y="285.53000000000003" font-size="5.0" fill="#1A1A1A" stroke="#1A1A1A" stroke-width="0.0" text-anchor="end" >OSCOUT_PD1</text>
<line x1="352.5" y1="289.55" x2="364.7" y2="289.55" stroke="#A83C36" stroke-width="1.25" stroke-linecap="butt"/>
<text x="357.4" y="288.45" font-size="5.0" fill="#222" stroke="#222" stroke-width="0.0" text-anchor="start" >54</text>
<circle cx="355.2" cy="286.55" r="1.1" fill="#8A8A8A"/>
<text x="349.0" y="291.55" font-size="5.0" fill="#1A1A1A" stroke="#1A1A1A" stroke-width="0.0" text-anchor="end" >PD2</text>
<line x1="352.5" y1="325.7" x2="364.7" y2="325.7" stroke="#A83C36" stroke-width="1.25" stroke-linecap="butt"/>
<text x="357.4" y="324.59999999999997" font-size="5.0" fill="#222" stroke="#222" stroke-width="0.0" text-anchor="start" >1</text>
<text x="349.0" y="327.7" font-size="5.0" fill="#1A1A1A" stroke="#1A1A1A" stroke-width="0.0" text-anchor="end" >VBAT</text>
<line x1="352.5" y1="349.8" x2="364.7" y2="349.8" stroke="#A83C36" stroke-width="1.25" stroke-linecap="butt"/>
<text x="357.4" y="348.7" font-size="5.0" fill="#222" stroke="#222" stroke-width="0.0" text-anchor="start" >60</text>
<circle cx="355.2" cy="346.8" r="1.1" fill="#F03838"/>
<text x="349.0" y="351.8" font-size="5.0" fill="#1A1A1A" stroke="#1A1A1A" stroke-width="0.0" text-anchor="end" >BOOT0</text>
<text x="273.7" y="360.6" font-size="5.0" fill="#1A1A1A" stroke="#1A1A1A" stroke-width="0.0" text-anchor="start" >STM32F103R6</text>
<text x="273.7" y="366.6" font-size="5.0" fill="#1A1A1A" stroke="#1A1A1A" stroke-width="0.0" text-anchor="start" >VDDA=VDD</text>
<text x="273.7" y="372.4" font-size="5.0" fill="#1A1A1A" stroke="#1A1A1A" stroke-width="0.0" text-anchor="start" >VSSA=VSS</text>
<line x1="364.5" y1="157.5" x2="370.5" y2="157.5" stroke="#4A7A4A" stroke-width="1.0" stroke-linecap="square"/>
<line x1="370.5" y1="157.5" x2="370.5" y2="132.5" stroke="#3E6E3E" stroke-width="1.0" stroke-linecap="square"/>
<polygon points="370.5,127.5 367.7,133.1 373.3,133.1" fill="none" stroke="#0E4A0E" stroke-width="1.1" stroke-linejoin="miter"/>
<line x1="370.5" y1="129.7" x2="370.5" y2="133.1" stroke="#0E4A0E" stroke-width="1.0" stroke-linecap="butt"/>
<text x="371.0" y="123.0" font-size="5.0" fill="#1A1A1A" stroke="#1A1A1A" stroke-width="0.0" text-anchor="middle" >VDD</text>
<line x1="364.5" y1="169.5" x2="388.5" y2="169.5" stroke="#4A7A4A" stroke-width="1.0" stroke-linecap="square"/>
<text x="370.8" y="167.2" font-size="5.0" fill="#1A1A1A" stroke="#1A1A1A" stroke-width="0.0" text-anchor="start" >PC0</text>
<line x1="364.5" y1="175.5" x2="388.5" y2="175.5" stroke="#4A7A4A" stroke-width="1.0" stroke-linecap="square"/>
<text x="370.8" y="173.2" font-size="5.0" fill="#1A1A1A" stroke="#1A1A1A" stroke-width="0.0" text-anchor="start" >PC1</text>
<line x1="364.5" y1="181.5" x2="388.5" y2="181.5" stroke="#4A7A4A" stroke-width="1.0" stroke-linecap="square"/>
<text x="370.8" y="179.2" font-size="5.0" fill="#1A1A1A" stroke="#1A1A1A" stroke-width="0.0" text-anchor="start" >PC2</text>
<line x1="364.5" y1="187.5" x2="388.5" y2="187.5" stroke="#4A7A4A" stroke-width="1.0" stroke-linecap="square"/>
<text x="370.8" y="185.2" font-size="5.0" fill="#1A1A1A" stroke="#1A1A1A" stroke-width="0.0" text-anchor="start" >PC3</text>
<line x1="364.5" y1="193.5" x2="388.5" y2="193.5" stroke="#4A7A4A" stroke-width="1.0" stroke-linecap="square"/>
<text x="370.8" y="191.2" font-size="5.0" fill="#1A1A1A" stroke="#1A1A1A" stroke-width="0.0" text-anchor="start" >PC4</text>
<line x1="364.5" y1="199.5" x2="388.5" y2="199.5" stroke="#4A7A4A" stroke-width="1.0" stroke-linecap="square"/>
<text x="370.8" y="197.2" font-size="5.0" fill="#1A1A1A" stroke="#1A1A1A" stroke-width="0.0" text-anchor="start" >PC5</text>
<line x1="364.5" y1="205.5" x2="388.5" y2="205.5" stroke="#4A7A4A" stroke-width="1.0" stroke-linecap="square"/>
<text x="370.8" y="203.2" font-size="5.0" fill="#1A1A1A" stroke="#1A1A1A" stroke-width="0.0" text-anchor="start" >PC6</text>
<line x1="364.5" y1="211.5" x2="388.5" y2="211.5" stroke="#4A7A4A" stroke-width="1.0" stroke-linecap="square"/>
<text x="370.8" y="209.2" font-size="5.0" fill="#1A1A1A" stroke="#1A1A1A" stroke-width="0.0" text-anchor="start" >PC7</text>
<line x1="243.5" y1="265.5" x2="261.5" y2="265.5" stroke="#4A7A4A" stroke-width="1.0" stroke-linecap="square"/>
<text x="250.0" y="263.4" font-size="5.0" fill="#1A1A1A" stroke="#1A1A1A" stroke-width="0.0" text-anchor="start" >PB1</text>
<line x1="243.5" y1="271.5" x2="261.5" y2="271.5" stroke="#4A7A4A" stroke-width="1.0" stroke-linecap="square"/>
<text x="250.0" y="269.4" font-size="5.0" fill="#1A1A1A" stroke="#1A1A1A" stroke-width="0.0" text-anchor="start" >PB2</text>
<line x1="243.5" y1="277.5" x2="261.5" y2="277.5" stroke="#4A7A4A" stroke-width="1.0" stroke-linecap="square"/>
<text x="250.0" y="275.4" font-size="5.0" fill="#1A1A1A" stroke="#1A1A1A" stroke-width="0.0" text-anchor="start" >PB3</text>
<polygon points="593.5,24.5 590.7,30.1 596.3,30.1" fill="none" stroke="#0E4A0E" stroke-width="1.1" stroke-linejoin="miter"/>
<line x1="593.5" y1="26.7" x2="593.5" y2="30.1" stroke="#0E4A0E" stroke-width="1.0" stroke-linecap="butt"/>
<line x1="593.5" y1="30.5" x2="593.5" y2="54.5" stroke="#3E6E3E" stroke-width="1.0" stroke-linecap="square"/>
<line x1="593.5" y1="54.5" x2="593.5" y2="58.0" stroke="#A04038" stroke-width="1.1" stroke-linecap="butt"/>
<circle cx="593.4" cy="69.3" r="12.1" fill="#C8C9A8" stroke="#9A3A32" stroke-width="1.1"/>
<polyline points="593.4,57.5 593.4,59.5 596.6,61.8 590.3,65.2 596.6,68.6 590.3,72.0 596.6,75.4 593.4,77.8 593.4,81.2" fill="none" stroke="#9A3A32" stroke-width="1.1"/>
<line x1="593.5" y1="81.2" x2="593.5" y2="84.8" stroke="#A04038" stroke-width="1.1" stroke-linecap="butt"/>
<rect x="594.7" y="52.6" width="3" height="3" fill="#F03838"/>
<rect x="594.6" y="82.7" width="3" height="3" fill="#8A8A8A"/>
<line x1="606.5" y1="74.3" x2="616.6" y2="78.6" stroke="#9A3A32" stroke-width="1.0" stroke-linecap="butt"/>
<line x1="606.5" y1="77.4" x2="616.6" y2="81.7" stroke="#9A3A32" stroke-width="1.0" stroke-linecap="butt"/>
<circle cx="607.0" cy="74.5" r="0.9" fill="#9A3A32"/><circle cx="607.0" cy="77.6" r="0.9" fill="#9A3A32"/>
<line x1="593.5" y1="84.5" x2="593.5" y2="109.5" stroke="#3E6E3E" stroke-width="1.0" stroke-linecap="square"/>
<text x="619.4" y="64.0" font-size="7.5" fill="#1A1A1A" stroke="#1A1A1A" stroke-width="0.0" text-anchor="start" >LDR1</text>
<text x="619.6" y="71.0" font-size="5.0" fill="#1A1A1A" stroke="#1A1A1A" stroke-width="0.0" text-anchor="start" >LDR</text>
<rect x="557.4" y="60.9" width="18.2" height="5.7" fill="#043C04" stroke="#22EE22" stroke-width="1.0"/>
<text x="566.3" y="65.9" font-size="5.0" fill="#44EE44" stroke="#44EE44" stroke-width="0.0" text-anchor="middle" >8.1</text>
<circle cx="560.1" cy="72.5" r="2.4" fill="#D40000"/><circle cx="560.1" cy="72.5" r="1.0" fill="#500000"/>
<circle cx="572.2" cy="72.5" r="2.4" fill="#D40000"/><circle cx="572.2" cy="72.5" r="1.0" fill="#500000"/>
<line x1="593.5" y1="109.6" x2="593.5" y2="114.5" stroke="#A04038" stroke-width="1.1" stroke-linecap="butt"/>
<line x1="593.5" y1="133.0" x2="593.5" y2="137.8" stroke="#A04038" stroke-width="1.1" stroke-linecap="butt"/>
<rect x="590.5" y="114.5" width="5" height="19.0" fill="#C8C9A8" stroke="#9A3A32" stroke-width="1.1"/>
<line x1="593.5" y1="137.5" x2="593.5" y2="156.5" stroke="#3E6E3E" stroke-width="1.0" stroke-linecap="square"/>
<line x1="587.5" y1="157.10000000000002" x2="599.5" y2="157.10000000000002" stroke="#4E804E" stroke-width="1.25" stroke-linecap="butt"/>
<line x1="590.3" y1="159.9" x2="596.7" y2="159.9" stroke="#4E804E" stroke-width="1.25" stroke-linecap="butt"/>
<line x1="592.6" y1="163.20000000000002" x2="594.4" y2="163.20000000000002" stroke="#4E804E" stroke-width="1.25" stroke-linecap="butt"/>
<rect x="588.3" y="106.9" width="3" height="3" fill="#8A8A8A"/>
<rect x="588.3" y="136.8" width="3" height="3" fill="#3030F0"/>
<text x="598.6" y="121.4" font-size="7.6" fill="#1A1A1A" stroke="#1A1A1A" stroke-width="0.0" text-anchor="start" >R2</text>
<text x="598.6" y="127.9" font-size="5.0" fill="#1A1A1A" stroke="#1A1A1A" stroke-width="0.0" text-anchor="start" >10k</text>
<rect x="466.5" y="253.5" width="121.0" height="48.0" fill="#C8C9A8" stroke="#9A3A32" stroke-width="1.1"/>
<rect x="472.5" y="258.5" width="109.0" height="26.0" fill="#98AE00" stroke="#34341A" stroke-width="1.2"/>
<text x="466.2" y="238.8" font-size="7.6" fill="#1A1A1A" stroke="#1A1A1A" stroke-width="0.0" text-anchor="start" >LCD1</text>
<text x="466.2" y="245.6" font-size="5.0" fill="#1A1A1A" stroke="#1A1A1A" stroke-width="0.0" text-anchor="start" >LM016L</text>
<g font-family="Liberation Mono, monospace" font-size="10" letter-spacing="0.67" fill="#111" stroke="#111" stroke-width="0.2"><text transform="translate(477.6,267.8) scale(0.9,1.18)">Auto</text><text transform="translate(477.6,279.7) scale(0.9,1.18)">GZ:44</text><text transform="translate(526.4,279.7) scale(0.9,1.18)">GZ:30</text></g>
<text transform="translate(480.9,299.2) rotate(-90)" font-size="5.4" fill="#2A2A2A">VSS</text>
<line x1="479.0" y1="301.5" x2="479.0" y2="313.7" stroke="#B04C44" stroke-width="1.4" stroke-linecap="butt"/>
<rect x="474.3" y="303.40000000000003" width="2.4" height="2.4" fill="#3030F0"/>
<text transform="translate(477.6,312.0) rotate(-90)" font-size="4.2" fill="#333">1</text>
<text transform="translate(486.9,299.2) rotate(-90)" font-size="5.4" fill="#2A2A2A">VDD</text>
<line x1="485.0" y1="301.5" x2="485.0" y2="313.7" stroke="#B04C44" stroke-width="1.4" stroke-linecap="butt"/>
<rect x="480.3" y="303.40000000000003" width="2.4" height="2.4" fill="#F03838"/>
<text transform="translate(483.6,312.0) rotate(-90)" font-size="4.2" fill="#333">2</text>
<text transform="translate(492.9,299.2) rotate(-90)" font-size="5.4" fill="#2A2A2A">VEE</text>
<line x1="491.0" y1="301.5" x2="491.0" y2="313.7" stroke="#B04C44" stroke-width="1.4" stroke-linecap="butt"/>
<rect x="486.3" y="303.40000000000003" width="2.4" height="2.4" fill="#F03838"/>
<text transform="translate(489.6,312.0) rotate(-90)" font-size="4.2" fill="#333">3</text>
<text transform="translate(504.9,299.2) rotate(-90)" font-size="5.4" fill="#2A2A2A">RS</text>
<line x1="503.0" y1="301.5" x2="503.0" y2="313.7" stroke="#B04C44" stroke-width="1.4" stroke-linecap="butt"/>
<rect x="498.3" y="303.40000000000003" width="2.4" height="2.4" fill="#F03838"/>
<text transform="translate(501.6,312.0) rotate(-90)" font-size="4.2" fill="#333">4</text>
<line x1="503.0" y1="313.7" x2="503.0" y2="331.8" stroke="#457E4B" stroke-width="1.4" stroke-linecap="butt"/>
<text transform="translate(501.1,326.4) rotate(-90)" font-size="5.0" fill="#2A2A2A">PB1</text>
<text transform="translate(510.9,299.2) rotate(-90)" font-size="5.4" fill="#2A2A2A">RW</text>
<line x1="509.0" y1="301.5" x2="509.0" y2="313.7" stroke="#B04C44" stroke-width="1.4" stroke-linecap="butt"/>
<rect x="504.3" y="303.40000000000003" width="2.4" height="2.4" fill="#3030F0"/>
<text transform="translate(507.6,312.0) rotate(-90)" font-size="4.2" fill="#333">5</text>
<line x1="509.0" y1="313.7" x2="509.0" y2="331.8" stroke="#457E4B" stroke-width="1.4" stroke-linecap="butt"/>
<text transform="translate(507.1,326.4) rotate(-90)" font-size="5.0" fill="#2A2A2A">PB2</text>
<text transform="translate(516.9,299.2) rotate(-90)" font-size="5.4" fill="#2A2A2A">E</text>
<line x1="515.0" y1="301.5" x2="515.0" y2="313.7" stroke="#B04C44" stroke-width="1.4" stroke-linecap="butt"/>
<rect x="510.3" y="303.40000000000003" width="2.4" height="2.4" fill="#3030F0"/>
<text transform="translate(513.6,312.0) rotate(-90)" font-size="4.2" fill="#333">6</text>
<line x1="515.0" y1="313.7" x2="515.0" y2="331.8" stroke="#457E4B" stroke-width="1.4" stroke-linecap="butt"/>
<text transform="translate(513.1,326.4) rotate(-90)" font-size="5.0" fill="#2A2A2A">PB3</text>
<text transform="translate(528.9,299.2) rotate(-90)" font-size="5.4" fill="#2A2A2A">D0</text>
<line x1="527.0" y1="301.5" x2="527.0" y2="313.7" stroke="#B04C44" stroke-width="1.4" stroke-linecap="butt"/>
<rect x="522.3" y="303.40000000000003" width="2.4" height="2.4" fill="#F03838"/>
<text transform="translate(525.6,312.0) rotate(-90)" font-size="4.2" fill="#333">7</text>
<line x1="527.0" y1="313.7" x2="527.0" y2="331.8" stroke="#457E4B" stroke-width="1.4" stroke-linecap="butt"/>
<text transform="translate(525.1,326.4) rotate(-90)" font-size="5.0" fill="#2A2A2A">PC0</text>
<text transform="translate(534.9,299.2) rotate(-90)" font-size="5.4" fill="#2A2A2A">D1</text>
<line x1="533.0" y1="301.5" x2="533.0" y2="313.7" stroke="#B04C44" stroke-width="1.4" stroke-linecap="butt"/>
<rect x="528.3" y="303.40000000000003" width="2.4" height="2.4" fill="#F03838"/>
<text transform="translate(531.6,312.0) rotate(-90)" font-size="4.2" fill="#333">8</text>
<line x1="533.0" y1="313.7" x2="533.0" y2="331.8" stroke="#457E4B" stroke-width="1.4" stroke-linecap="butt"/>
<text transform="translate(531.1,326.4) rotate(-90)" font-size="5.0" fill="#2A2A2A">PC1</text>
<text transform="translate(540.9,299.2) rotate(-90)" font-size="5.4" fill="#2A2A2A">D2</text>
<line x1="539.0" y1="301.5" x2="539.0" y2="313.7" stroke="#B04C44" stroke-width="1.4" stroke-linecap="butt"/>
<rect x="534.3" y="303.40000000000003" width="2.4" height="2.4" fill="#F03838"/>
<text transform="translate(537.6,312.0) rotate(-90)" font-size="4.2" fill="#333">9</text>
<line x1="539.0" y1="313.7" x2="539.0" y2="331.8" stroke="#457E4B" stroke-width="1.4" stroke-linecap="butt"/>
<text transform="translate(537.1,326.4) rotate(-90)" font-size="5.0" fill="#2A2A2A">PC2</text>
<text transform="translate(546.9,299.2) rotate(-90)" font-size="5.4" fill="#2A2A2A">D3</text>
<line x1="545.0" y1="301.5" x2="545.0" y2="313.7" stroke="#B04C44" stroke-width="1.4" stroke-linecap="butt"/>
<rect x="540.3" y="303.40000000000003" width="2.4" height="2.4" fill="#F03838"/>
<text transform="translate(543.6,312.0) rotate(-90)" font-size="4.2" fill="#333">10</text>
<line x1="545.0" y1="313.7" x2="545.0" y2="331.8" stroke="#457E4B" stroke-width="1.4" stroke-linecap="butt"/>
<text transform="translate(543.1,326.4) rotate(-90)" font-size="5.0" fill="#2A2A2A">PC3</text>
<text transform="translate(552.9,299.2) rotate(-90)" font-size="5.4" fill="#2A2A2A">D4</text>
<line x1="551.0" y1="301.5" x2="551.0" y2="313.7" stroke="#B04C44" stroke-width="1.4" stroke-linecap="butt"/>
<rect x="546.3" y="303.40000000000003" width="2.4" height="2.4" fill="#3030F0"/>
<text transform="translate(549.6,312.0) rotate(-90)" font-size="4.2" fill="#333">11</text>
<line x1="551.0" y1="313.7" x2="551.0" y2="331.8" stroke="#457E4B" stroke-width="1.4" stroke-linecap="butt"/>
<text transform="translate(549.1,326.4) rotate(-90)" font-size="5.0" fill="#2A2A2A">PC4</text>
<text transform="translate(558.9,299.2) rotate(-90)" font-size="5.4" fill="#2A2A2A">D5</text>
<line x1="557.0" y1="301.5" x2="557.0" y2="313.7" stroke="#B04C44" stroke-width="1.4" stroke-linecap="butt"/>
<rect x="552.3" y="303.40000000000003" width="2.4" height="2.4" fill="#F03838"/>
<text transform="translate(555.6,312.0) rotate(-90)" font-size="4.2" fill="#333">12</text>
<line x1="557.0" y1="313.7" x2="557.0" y2="331.8" stroke="#457E4B" stroke-width="1.4" stroke-linecap="butt"/>
<text transform="translate(555.1,326.4) rotate(-90)" font-size="5.0" fill="#2A2A2A">PC5</text>
<text transform="translate(564.9,299.2) rotate(-90)" font-size="5.4" fill="#2A2A2A">D6</text>
<line x1="563.0" y1="301.5" x2="563.0" y2="313.7" stroke="#B04C44" stroke-width="1.4" stroke-linecap="butt"/>
<rect x="558.3" y="303.40000000000003" width="2.4" height="2.4" fill="#F03838"/>
<text transform="translate(561.6,312.0) rotate(-90)" font-size="4.2" fill="#333">13</text>
<line x1="563.0" y1="313.7" x2="563.0" y2="331.8" stroke="#457E4B" stroke-width="1.4" stroke-linecap="butt"/>
<text transform="translate(561.1,326.4) rotate(-90)" font-size="5.0" fill="#2A2A2A">PC6</text>
<text transform="translate(570.9,299.2) rotate(-90)" font-size="5.4" fill="#2A2A2A">D7</text>
<line x1="569.0" y1="301.5" x2="569.0" y2="313.7" stroke="#B04C44" stroke-width="1.4" stroke-linecap="butt"/>
<rect x="564.3" y="303.40000000000003" width="2.4" height="2.4" fill="#3030F0"/>
<text transform="translate(567.6,312.0) rotate(-90)" font-size="4.2" fill="#333">14</text>
<line x1="569.0" y1="313.7" x2="569.0" y2="331.8" stroke="#457E4B" stroke-width="1.4" stroke-linecap="butt"/>
<text transform="translate(567.1,326.4) rotate(-90)" font-size="5.0" fill="#2A2A2A">PC7</text>
<line x1="479.0" y1="309.5" x2="479.0" y2="313.0" stroke="#457E4B" stroke-width="1.4" stroke-linecap="butt"/>
<line x1="479.0" y1="313.0" x2="448.5" y2="313.0" stroke="#457E4B" stroke-width="1.3" stroke-linecap="square"/>
<line x1="448.5" y1="313.0" x2="448.5" y2="325.4" stroke="#457E4B" stroke-width="1.3" stroke-linecap="square"/>
<line x1="442.5" y1="325.7" x2="454.5" y2="325.7" stroke="#4E804E" stroke-width="1.25" stroke-linecap="butt"/>
<line x1="445.3" y1="328.5" x2="451.7" y2="328.5" stroke="#4E804E" stroke-width="1.25" stroke-linecap="butt"/>
<line x1="447.6" y1="331.79999999999995" x2="449.4" y2="331.79999999999995" stroke="#4E804E" stroke-width="1.25" stroke-linecap="butt"/>
<line x1="485.0" y1="313.7" x2="485.0" y2="350.0" stroke="#457E4B" stroke-width="1.4" stroke-linecap="butt"/>
<polygon points="485.0,354.3 482.2,349.3 487.8,349.3" fill="none" stroke="#0E4A0E" stroke-width="1.1" stroke-linejoin="miter"/>
<line x1="485.0" y1="352.1" x2="485.0" y2="349.3" stroke="#0E4A0E" stroke-width="1.0" stroke-linecap="butt"/>
<line x1="491.0" y1="313.7" x2="491.0" y2="355.6" stroke="#457E4B" stroke-width="1.4" stroke-linecap="butt"/>
<line x1="491.5" y1="355.6" x2="491.5" y2="361.7" stroke="#A04038" stroke-width="1.1" stroke-linecap="butt"/>
<line x1="491.5" y1="380.1" x2="491.5" y2="386.0" stroke="#A04038" stroke-width="1.1" stroke-linecap="butt"/>
<rect x="488.5" y="361.5" width="5" height="19.0" fill="#C8C9A8" stroke="#9A3A32" stroke-width="1.1"/>
<rect x="486.0" y="353.8" width="3" height="3" fill="#F03838"/>
<rect x="486.0" y="384.0" width="3" height="3" fill="#F03838"/>
<line x1="491.0" y1="386.0" x2="491.0" y2="410.0" stroke="#457E4B" stroke-width="1.4" stroke-linecap="butt"/>
<polygon points="491.0,415.0 488.2,410.0 493.8,410.0" fill="none" stroke="#0E4A0E" stroke-width="1.1" stroke-linejoin="miter"/>
<line x1="491.0" y1="412.8" x2="491.0" y2="410.0" stroke="#0E4A0E" stroke-width="1.0" stroke-linecap="butt"/>
<text x="496.3" y="368.2" font-size="7.0" fill="#1A1A1A" stroke="#1A1A1A" stroke-width="0.0" text-anchor="start" >R1</text>
<text x="496.3" y="375.3" font-size="5.0" fill="#1A1A1A" stroke="#1A1A1A" stroke-width="0.0" text-anchor="start" >3k</text>
<g fill="none" stroke="#1414C8" stroke-width="1.0"><polygon points="430.5,280.0 433.9,283.4 430.5,286.8 427.1,283.4"/><line x1="427.0" y1="283.4" x2="434.0" y2="283.4"/><line x1="430.5" y1="279.9" x2="430.5" y2="286.9"/></g>
<g transform="translate(543.4,421.4) scale(1,1.1)" font-size="14.4"><text x="-0.6" y="-0.6" textLength="133" lengthAdjust="spacingAndGlyphs" fill="#FAFAF4">CSDN @bbxyliyang</text><text x="0.9" y="0.8" textLength="133" lengthAdjust="spacingAndGlyphs" fill="#6A6A66">CSDN @bbxyliyang</text><text x="0" y="0" textLength="133" lengthAdjust="spacingAndGlyphs" fill="#D2D2CA">CSDN @bbxyliyang</text></g>
<circle cx="140.5" cy="123.5" r="2.15" fill="#0A3F0A"/>
<circle cx="165.5" cy="123.5" r="2.15" fill="#0A3F0A"/>
<circle cx="58.5" cy="200.5" r="2.15" fill="#0A3F0A"/>
<circle cx="58.5" cy="229.5" r="2.15" fill="#0A3F0A"/>
<circle cx="56.5" cy="265.5" r="2.15" fill="#0A3F0A"/>
<circle cx="56.5" cy="277.5" r="2.15" fill="#0A3F0A"/>
<circle cx="123.5" cy="181.5" r="2.15" fill="#0A3F0A"/>
<circle cx="141.5" cy="210.5" r="2.15" fill="#0A3F0A"/>
<circle cx="165.5" cy="229.5" r="2.15" fill="#0A3F0A"/>
<circle cx="201.5" cy="265.5" r="2.15" fill="#0A3F0A"/>
<circle cx="388.5" cy="169.5" r="1.9" fill="#0A3F0A"/>
<circle cx="388.5" cy="175.5" r="1.9" fill="#0A3F0A"/>
<circle cx="388.5" cy="181.5" r="1.9" fill="#0A3F0A"/>
<circle cx="388.5" cy="187.5" r="1.9" fill="#0A3F0A"/>
<circle cx="388.5" cy="193.5" r="1.9" fill="#0A3F0A"/>
<circle cx="388.5" cy="199.5" r="1.9" fill="#0A3F0A"/>
<circle cx="388.5" cy="205.5" r="1.9" fill="#0A3F0A"/>
<circle cx="388.5" cy="211.5" r="1.9" fill="#0A3F0A"/>
<circle cx="243.5" cy="265.5" r="1.9" fill="#0A3F0A"/>
<circle cx="243.5" cy="271.5" r="1.9" fill="#0A3F0A"/>
<circle cx="243.5" cy="277.5" r="1.9" fill="#0A3F0A"/>
<circle cx="593.5" cy="96.5" r="2.15" fill="#0A3F0A"/>
<circle cx="503.0" cy="331.8" r="1.9" fill="#0A3F0A"/>
<circle cx="509.0" cy="331.8" r="1.9" fill="#0A3F0A"/>
<circle cx="515.0" cy="331.8" r="1.9" fill="#0A3F0A"/>
<circle cx="527.0" cy="331.8" r="1.9" fill="#0A3F0A"/>
<circle cx="533.0" cy="331.8" r="1.9" fill="#0A3F0A"/>
<circle cx="539.0" cy="331.8" r="1.9" fill="#0A3F0A"/>
<circle cx="545.0" cy="331.8" r="1.9" fill="#0A3F0A"/>
<circle cx="551.0" cy="331.8" r="1.9" fill="#0A3F0A"/>
<circle cx="557.0" cy="331.8" r="1.9" fill="#0A3F0A"/>
<circle cx="563.0" cy="331.8" r="1.9" fill="#0A3F0A"/>
<circle cx="569.0" cy="331.8" r="1.9" fill="#0A3F0A"/>
</svg></body></html>
